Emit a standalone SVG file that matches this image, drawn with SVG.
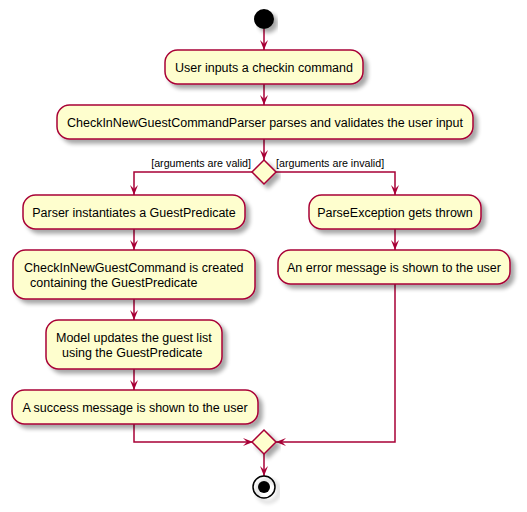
<svg xmlns="http://www.w3.org/2000/svg" width="527" height="512" viewBox="0 0 527 512">
<defs>
<filter id="sh" x="-10%" y="-10%" width="130%" height="160%">
<feGaussianBlur in="SourceAlpha" stdDeviation="2"/>
<feOffset dx="4" dy="4" result="b"/>
<feComponentTransfer><feFuncA type="linear" slope="0.35"/></feComponentTransfer>
<feMerge><feMergeNode/><feMergeNode in="SourceGraphic"/></feMerge>
</filter>
<marker id="ah" viewBox="0 0 10 10" refX="10" refY="5" markerWidth="10" markerHeight="10" markerUnits="userSpaceOnUse" orient="auto">
<path d="M0,1 L10,5 L0,9 L4,5 Z" fill="#A80036"/>
</marker>
</defs>
<style>
.box{fill:#FEFECE;stroke:#A80036;stroke-width:1.5;filter:url(#sh)}
.t{font-family:"Liberation Sans",Arial,sans-serif;font-size:12.5px;fill:#000}
.m{text-anchor:middle}
.lbl{font-family:"Liberation Sans",Arial,sans-serif;font-size:10.7px;fill:#000}
.c{fill:none;stroke:#A80036;stroke-width:1.5}
</style>
<rect width="527" height="512" fill="#FFFFFF"/>
<g id="connectors">
<path class="c" d="M264,29 V50" marker-end="url(#ah)"/>
<path class="c" d="M264,84 V105" marker-end="url(#ah)"/>
<path class="c" d="M264,139 V160" marker-end="url(#ah)"/>
<path class="c" d="M252,172 H134 V195" marker-end="url(#ah)"/>
<path class="c" d="M276,172 H395 V195" marker-end="url(#ah)"/>
<path class="c" d="M134,229 V250" marker-end="url(#ah)"/>
<path class="c" d="M134,299 V320" marker-end="url(#ah)"/>
<path class="c" d="M134,369 V390" marker-end="url(#ah)"/>
<path class="c" d="M395,229 V250" marker-end="url(#ah)"/>
<path class="c" d="M134,424 V442 H253" marker-end="url(#ah)"/>
<path class="c" d="M395,284 V442 H276" marker-end="url(#ah)"/>
<path class="c" d="M264,454 V476" marker-end="url(#ah)"/>
<text class="lbl" x="251" y="167" text-anchor="end">[arguments are valid]</text>
<text class="lbl" x="276" y="167">[arguments are invalid]</text>
</g>
<g id="start"><circle cx="264" cy="19" r="10" fill="#000" filter="url(#sh)"/></g>
<g id="n1"><rect class="box" x="165" y="50" width="198" height="34" rx="12.5"/><text class="t m" x="264" y="71.5">User inputs a checkin command</text></g>
<g id="n2"><rect class="box" x="57" y="105" width="416" height="34" rx="12.5"/><text class="t m" x="265" y="126.5">CheckInNewGuestCommandParser parses and validates the user input</text></g>
<g id="d1"><polygon class="box" points="264,160 276,172 264,184 252,172"/></g>
<g id="n3"><rect class="box" x="23" y="195" width="222" height="34" rx="12.5"/><text class="t m" x="134" y="216.5">Parser instantiates a GuestPredicate</text></g>
<g id="n4"><rect class="box" x="13" y="250" width="242" height="49" rx="12.5"/><text class="t" x="24" y="271.5">CheckInNewGuestCommand is created</text><text class="t" x="30" y="286.5">containing the GuestPredicate</text></g>
<g id="n5"><rect class="box" x="46" y="320" width="176" height="49" rx="12.5"/><text class="t" x="56" y="341.5">Model updates the guest list</text><text class="t" x="62" y="356.5">using the GuestPredicate</text></g>
<g id="n6"><rect class="box" x="12" y="390" width="246" height="34" rx="12.5"/><text class="t m" x="135" y="411.5">A success message is shown to the user</text></g>
<g id="n7"><rect class="box" x="309" y="195" width="172" height="34" rx="12.5"/><text class="t m" x="395" y="216.5">ParseException gets thrown</text></g>
<g id="n8"><rect class="box" x="278" y="250" width="232" height="34" rx="12.5"/><text class="t m" x="394" y="271.5">An error message is shown to the user</text></g>
<g id="d2"><polygon class="box" points="264,430 276,442 264,454 252,442"/></g>
<g id="end"><circle cx="264" cy="487" r="11" fill="none" stroke="#000" stroke-width="1.5" filter="url(#sh)"/><circle cx="264" cy="487" r="6" fill="#000"/></g>
</svg>
